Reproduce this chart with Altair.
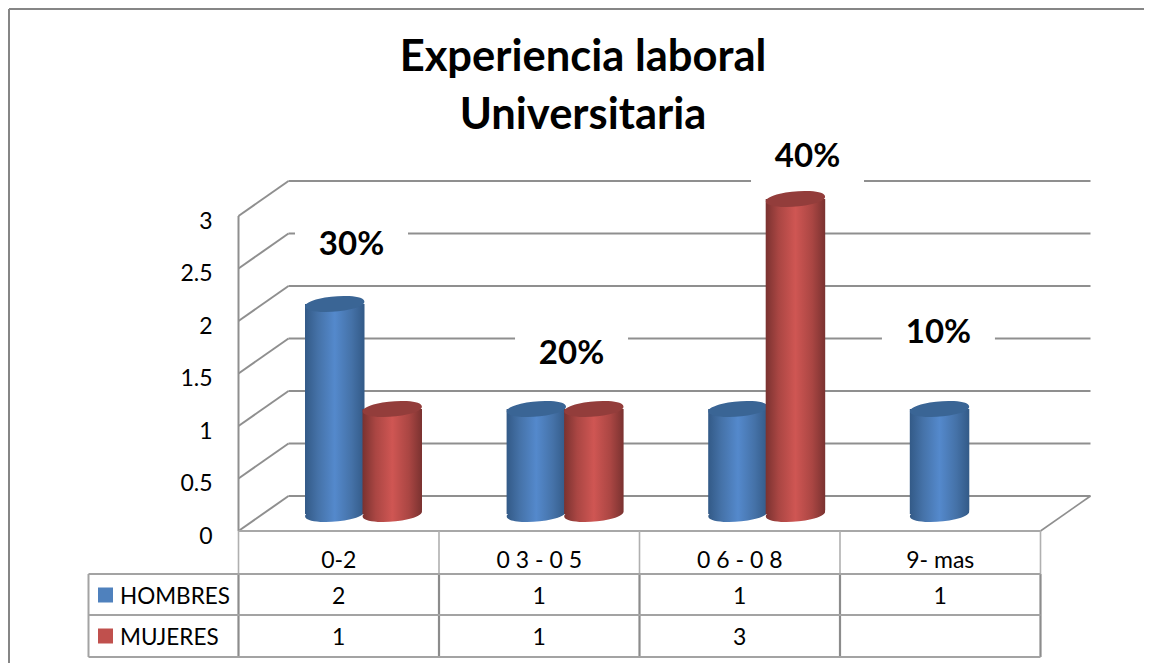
import altair as alt
import pandas as pd

# ---- chart values -------------------------------------------------------
categories = ["0-2", "0 3 - 0 5", "0 6 - 0 8", "9- mas"]
series_names = ["HOMBRES", "MUJERES"]
hombres = [2, 1, 1, 1]
mujeres = [1, 1, 3, None]
y_ticks = [0, 0.5, 1, 1.5, 2, 2.5, 3]
y_tick_labels = ["0", "0.5", "1", "1.5", "2", "2.5", "3"]
pct_labels = ["30%", "20%", "40%", "10%"]
pct_x = [0.5636, 1.661, 2.838, 3.491]      # category units
pct_y = [2.743, 1.705, 3.581, 1.905]       # value units
title_lines = ["Experiencia laboral", "Universitaria"]

# ---- layout: one category = 200.5 px, one value unit = 105 px ------------
W, H = 1136, 655
UX, UY = 200.5, 105.0
X0, Y0 = 238.5 - 8, 531 - 8                # plot origin inside the view
x_scale = alt.Scale(domain=[-X0 / UX, (W - X0) / UX], nice=False, zero=False)
y_scale = alt.Scale(domain=[(Y0 - H) / UY, Y0 / UY], nice=False, zero=False)
DX, DY = 50 / UX, 35 / UY                  # chart depth
GRID = "#8f8f8f"
LINE = "#a3a3a3"
FONT = "Lato"
ncat = len(categories)
xe = lambda f: alt.X(f, type="quantitative", scale=x_scale, axis=None)
ye = lambda f: alt.Y(f, type="quantitative", scale=y_scale, axis=None)

# ---- table rows in value units (below zero) ------------------------------
row_lines = [-43 / UY, -84 / UY, -126 / UY]
row_text = [-28 / UY, -64 / UY, -105 / UY]
legend_left = -150 / UX

# ---- frame ----------------------------------------------------------------
rules = []
def rule(x, y, x2, y2, c=GRID, w=2):
    rules.append(dict(x=x, y=y, x2=x2, y2=y2, c=c, w=w))

top_v = (Y0 - 1) / UY
left_u = (-X0 + 1) / UX
right_u = (W - X0) / UX
rule(left_u, top_v, right_u, top_v, "#868686", 2)
rule(left_u, top_v, left_u, (Y0 - H) / UY, "#868686", 2)

for v in y_ticks:
    rule(DX, v + DY, ncat + DX, v + DY)              # back wall
    rule(0, v, DX, v + DY)                           # side wall
rule(0, 0, 0, y_ticks[-1])
rule(ncat, 0, ncat + DX, DY, GRID, 1.6)
rule(0, 0, ncat, 0, "#a8a8a8", 2)
for i in range(ncat + 1):
    rule(i, 0, i, row_lines[0], "#b0b0b0", 1.6)
    rule(i, row_lines[0], i, row_lines[2], "#8c8c8c", 2.2)
for r in row_lines:
    rule(legend_left, r, ncat, r, LINE, 2)
rule(legend_left, row_lines[0], legend_left, row_lines[2], LINE, 2)
rules_df = pd.DataFrame(rules)
rules_layer = alt.Chart(rules_df).mark_rule().encode(
    x=xe("x"), y=ye("y"), x2="x2:Q", y2="y2:Q",
    color=alt.Color("c:N", scale=None),
    strokeWidth=alt.StrokeWidth("w:Q", scale=None),
)

# ---- white label plates, breaking the gridlines ----------------------------
pct_df = pd.DataFrame({"t": pct_labels, "x": pct_x, "y": pct_y})
pct_df["x1"] = pct_df.x - 56.5 / UX
pct_df["x2"] = pct_df.x + 56.5 / UX
pct_df["y1"] = pct_df.y - 29 / UY
pct_df["y2"] = pct_df.y + 29 / UY
plates = alt.Chart(pct_df).mark_rect(color="white").encode(
    x=xe("x1"), x2="x2:Q", y=ye("y1"), y2="y2:Q")
pct_text = alt.Chart(pct_df).mark_text(
    font=FONT, fontWeight="bold", fontSize=33, color="black", baseline="middle", dy=2
).encode(x=xe("x"), y=ye("y"), text="t:N")

# ---- cylinders ---------------------------------------------------------------
BAR_W = 59.5 / UX
BAR_STEP = 57.5 / UX
BAR_LEFT = (305 - 238.5) / UX
SPACING = 201.6 / UX
BASE = (531 - 514) / UY
ELLIPSE = "M-0.996,0.087A1,0.254,-5,1,1,0.996,-0.087A1,0.254,-5,1,1,-0.996,0.087Z"
CYL_SIZE = 59.5 ** 2

def grad(a, b, c):
    return alt.LinearGradient(
        gradient="linear", x1=0, x2=1, y1=0, y2=0,
        stops=[alt.GradientStop(offset=0, color=a),
               alt.GradientStop(offset=0.22, color=b),
               alt.GradientStop(offset=0.5, color=c),
               alt.GradientStop(offset=0.78, color=b),
               alt.GradientStop(offset=1, color=a)])

bar_layers = []
styles = [(hombres, grad("#335a87", "#4572a8", "#5489cc"), "#3a6595"),
          (mujeres, grad("#7a3230", "#aa4643", "#cf5653"), "#933d3b")]
for s, (vals, g, cap) in enumerate(styles):
    recs = []
    for i, v in enumerate(vals):
        if v is None:
            continue
        left = BAR_LEFT + i * SPACING + s * BAR_STEP
        recs.append(dict(x1=left, x2=left + BAR_W, xc=left + BAR_W / 2,
                         top=v + BASE, base=BASE))
    d = pd.DataFrame(recs)
    bottom = alt.Chart(d).mark_point(
        shape=ELLIPSE, size=CYL_SIZE, filled=True, fill=g, stroke=None, opacity=1
    ).encode(x=xe("xc"), y=ye("base"))
    body = alt.Chart(d).mark_rect(fill=g, cornerRadiusBottomRight=4).encode(
        x=xe("x1"), x2="x2:Q", y=ye("base"), y2="top:Q")
    top = alt.Chart(d).mark_point(
        shape=ELLIPSE, size=CYL_SIZE, filled=True, fill=cap, stroke=None, opacity=1
    ).encode(x=xe("xc"), y=ye("top"))
    bar_layers += [bottom, body, top]

# ---- texts --------------------------------------------------------------------
tick_df = pd.DataFrame({"v": y_ticks, "t": y_tick_labels})
tick_df["x"] = -26 / UX
tick_df["y"] = tick_df.v - 3.5 / UY
ticks = alt.Chart(tick_df).mark_text(
    font=FONT, fontSize=23, color="black", align="right", baseline="middle", dy=2
).encode(x=xe("x"), y=ye("y"), text="t:N")

cells = []
for i, c in enumerate(categories):
    cells.append(dict(x=i + 0.5, y=row_text[0], t=c))
    cells.append(dict(x=i + 0.5, y=row_text[1], t=str(hombres[i])))
    if mujeres[i] is not None:
        cells.append(dict(x=i + 0.5, y=row_text[2], t=str(mujeres[i])))
cell_text = alt.Chart(pd.DataFrame(cells)).mark_text(
    font=FONT, fontSize=23, color="black", baseline="middle", dy=1.5
).encode(x=xe("x"), y=ye("y"), text="t:N")

leg = pd.DataFrame({
    "t": series_names,
    "y": [row_text[1], row_text[2]],
    "c": ["#4f81bd", "#c0504d"],
    "sx1": [(98 - 238.5) / UX] * 2,
    "sx2": [(113 - 238.5) / UX] * 2,
    "tx": [(120 - 238.5) / UX] * 2,
})
leg["sy1"] = leg.y - 7.5 / UY
leg["sy2"] = leg.y + 7.5 / UY
swatches = alt.Chart(leg).mark_rect().encode(
    x=xe("sx1"), x2="sx2:Q", y=ye("sy1"), y2="sy2:Q",
    color=alt.Color("c:N", scale=None))
leg_text = alt.Chart(leg).mark_text(
    font=FONT, fontSize=22.5, color="black", align="left", baseline="middle", dy=1.5
).encode(x=xe("tx"), y=ye("y"), text="t:N")

title_df = pd.DataFrame({"t": title_lines,
                         "x": [(583 - 238.5) / UX] * 2,
                         "y": [(531 - 56) / UY, (531 - 114) / UY]})
title = alt.Chart(title_df).mark_text(
    font=FONT, fontWeight="bold", fontSize=43.5, color="black", baseline="middle", dy=2
).encode(x=xe("x"), y=ye("y"), text="t:N")

chart = alt.layer(
    rules_layer, plates, *bar_layers, pct_text, ticks, cell_text, swatches, leg_text, title
).properties(
    width=W, height=H, padding=0, background="white",
    autosize=alt.AutoSizeParams(type="none"),
).configure_view(stroke=None)

chart.save("out.html", embed_options={"renderer": "svg", "actions": False})
